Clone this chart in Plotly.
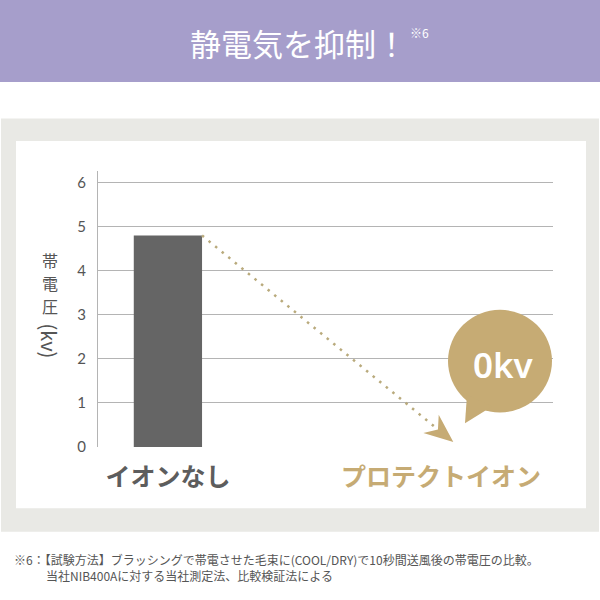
import plotly.graph_objects as go

# data
categories = ['イオンなし', 'プロテクトイオン']
voltage_kv = [4.8, 0]
bubble_text = '0kv'
y_ticks = [0, 1, 2, 3, 4, 5, 6]
y_title_chars = ['帯', '電', '圧']
y_title_unit = '(kv)'

title = '静電気を抑制！'
title_note = '※6'
footnote_1 = '※6：【試験方法】ブラッシングで帯電させた毛束に(COOL/DRY)で10秒間送風後の帯電圧の比較。'
footnote_2 = '当社NIB400Aに対する当社測定法、比較検証法による'

# colours
PURPLE = '#a69ecb'
PANEL = '#e9e9e5'
GOLD = '#c6ab74'
BAR = '#656565'
TEXT = '#555555'
LABEL = '#5d5d5d'
GRID = '#b4b4b4'
CJK = 'Noto Sans CJK JP'

W = H = 600
# plot area in pixels
X0, X1 = 98, 553
Y0, Y1 = 453, 173
XR = [-0.256, 1.41]
YR = [0, 6.27]
BAR_W = 0.25


def px(x):
    return x / W


def py(y):
    return 1 - y / H


def to_pix(x, y):
    return (X0 + (x - XR[0]) / (XR[1] - XR[0]) * (X1 - X0),
            Y0 - (y - YR[0]) / (YR[1] - YR[0]) * (Y0 - Y1))


def to_data(x, y):
    return (XR[0] + (x - X0) / (X1 - X0) * (XR[1] - XR[0]),
            YR[0] + (Y0 - y) / (Y0 - Y1) * (YR[1] - YR[0]))


def path(points):
    s = 'M ' + ' L '.join(f'{px(x):.5f},{py(y):.5f}' for x, y in points)
    return s + ' Z'


xs = list(range(len(categories)))

fig = go.Figure()
fig.add_trace(go.Bar(x=xs, y=voltage_kv, width=BAR_W, marker_color=BAR,
                     marker_line_width=0, hoverinfo='skip'))

# dotted arrow from the top of the first bar towards the second category
start = to_pix(xs[0] + BAR_W / 2, voltage_kv[0])
tip = to_pix(xs[1] + 0.045, voltage_kv[1] + 0.11)
dx, dy = tip[0] - start[0], tip[1] - start[1]
n = (dx ** 2 + dy ** 2) ** 0.5
ux, uy = dx / n, dy / n
vx, vy = -uy, ux
notch = (tip[0] - 20 * ux, tip[1] - 20 * uy)
back = (tip[0] - 29 * ux, tip[1] - 29 * uy)
head = [tip,
        (back[0] + 12 * vx, back[1] + 12 * vy),
        notch,
        (back[0] - 12 * vx, back[1] - 12 * vy)]
line_end = to_data(notch[0] - 3 * ux, notch[1] - 3 * uy)

fig.add_trace(go.Scatter(x=[xs[0] + BAR_W / 2, line_end[0]], y=[voltage_kv[0], line_end[1]],
                         mode='lines', line=dict(color='#b9aa7c', width=2.5, dash='2.5px,6px'),
                         hoverinfo='skip'))

shapes = [
    dict(type='rect', xref='paper', yref='paper', x0=0, x1=1, y0=py(83), y1=1,
         fillcolor=PURPLE, line_width=0, layer='below'),
    dict(type='rect', xref='paper', yref='paper', x0=px(1), x1=px(599), y0=py(539), y1=py(120),
         fillcolor=PANEL, line_width=0, layer='below'),
    dict(type='rect', xref='paper', yref='paper', x0=px(16), x1=px(586), y0=py(515), y1=py(143),
         fillcolor='white', line_width=0, layer='below'),
    dict(type='path', xref='paper', yref='paper', path=path(head), fillcolor=GOLD, line_width=0),
    # speech bubble
    dict(type='circle', xref='paper', yref='paper', x0=px(448), x1=px(552), y0=py(418), y1=py(314),
         fillcolor=GOLD, line_width=0),
    dict(type='path', xref='paper', yref='paper', path=path([(467, 400), (465, 429), (492, 412)]),
         fillcolor=GOLD, line_width=0),
]

ticktext = [
    f'<span style="color:{LABEL}">{categories[0]}</span>',
    f'<span style="color:{GOLD}">{categories[1]}</span>',
]

annotations = [
    dict(text=title, x=px(298), y=py(43), font=dict(size=31, color='white', family=CJK)),
    dict(text=title_note, x=px(419), y=py(33), font=dict(size=12, color='white', family=CJK)),
    dict(text=bubble_text, x=px(503), y=py(369),
         font=dict(size=35, color='white', family='Noto Sans', weight=600)),
    dict(text=y_title_unit, x=px(50), y=py(345), textangle=90,
         font=dict(size=20, color=TEXT, family=CJK)),
    dict(text=footnote_1, x=px(12), y=py(567), xanchor='left',
         font=dict(size=12, color=TEXT, family=CJK)),
    dict(text=footnote_2, x=px(44), y=py(583), xanchor='left',
         font=dict(size=12, color=TEXT, family=CJK)),
]
# vertical title: one upright character per line
for i, ch in enumerate(y_title_chars):
    annotations.append(dict(text=ch, x=px(50), y=py(264 + 23 * i),
                            font=dict(size=16, color=TEXT, family=CJK)))
for a in annotations:
    a.update(xref='paper', yref='paper', showarrow=False)
    a.setdefault('xanchor', 'center')
    a.setdefault('yanchor', 'middle')

fig.update_layout(
    width=W, height=H,
    margin=dict(l=0, r=0, t=0, b=0),
    paper_bgcolor='white',
    plot_bgcolor='rgba(0,0,0,0)',
    showlegend=False,
    shapes=shapes,
    annotations=annotations,
    xaxis=dict(domain=[px(X0), px(X1)], range=XR, tickvals=xs, ticktext=ticktext,
               showgrid=False, zeroline=False, showline=False, ticks='',
               ticklabelstandoff=13,
               tickfont=dict(size=25, family=CJK, weight=700), fixedrange=True),
    yaxis=dict(domain=[py(Y0), py(Y1)], range=YR, tickvals=y_ticks,
               showgrid=True, gridcolor=GRID, gridwidth=1, zeroline=False,
               showline=True, linecolor=GRID, linewidth=1, ticks='',
               ticklabelstandoff=8,
               tickfont=dict(size=15, color=TEXT, family='Lato'), fixedrange=True),
)

# drop the browser's default 8px page margin so the figure sits in the corner
fig.write_html('out.html', config={'displayModeBar': False},
               post_script="document.body.style.margin='0';")
